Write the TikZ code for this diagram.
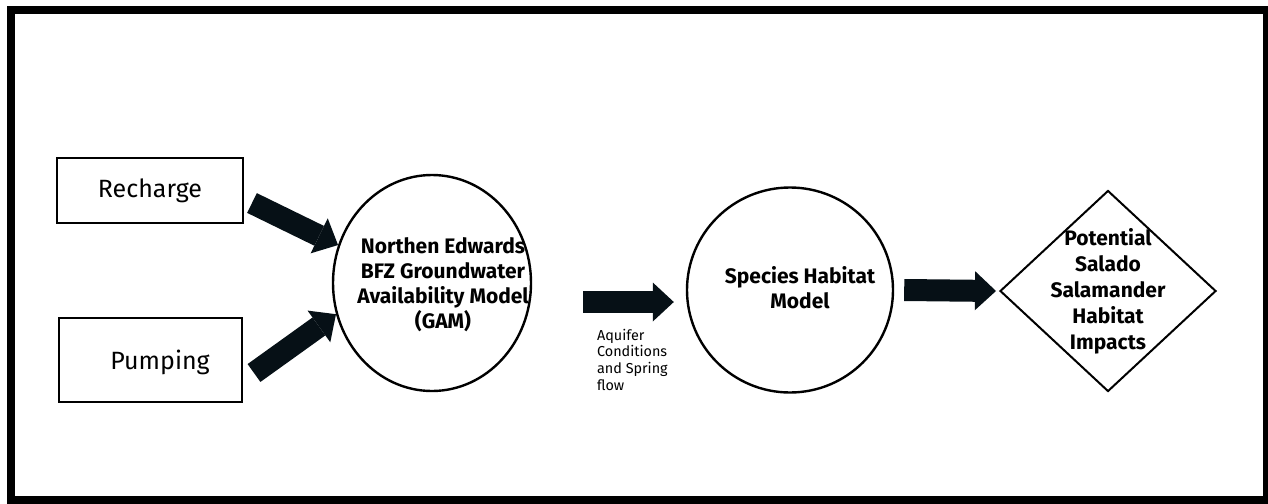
\documentclass[tikz,border=0pt]{standalone}
\usepackage{fontspec}
\setmainfont{Fira Sans}
\usepackage{tikz}
\usetikzlibrary{shapes.geometric,arrows.meta,positioning}

\definecolor{arrowfill}{RGB}{6,16,22}

\tikzset{
  inbox/.style = {rectangle, draw, line width = 1pt, inner sep = 0pt},
  model/.style = {ellipse, draw, line width = 1.2pt, inner sep = 0pt},
  boxtext/.style = {font = \fontsize{12.5}{15}\selectfont},
  modeltext/.style = {font = \bfseries\fontsize{10.5}{12.5}\selectfont,
    align = center},
  blockarrow/.style = {draw = arrowfill, line width = 11pt,
    -{Triangle[length = 10.5pt, width = 19.5pt, line width = 0pt]}},
}

\begin{document}
\begin{tikzpicture}[x = 0.5pt, y = -0.5pt]
  \useasboundingbox (0,0) rectangle (1268,503);
  % outer frame
  \draw[line width = 4pt] (10.8,10.4) rectangle (1266.7,500);

  % inputs
  \node[inbox, minimum width = 93pt, minimum height = 32.5pt]
    (recharge) at (150,190.5) {};
  \node[boxtext] (rechargetext) at (recharge) {Recharge};
  \node[inbox, minimum width = 91.5pt, minimum height = 42pt]
    (pumping) at (150.5,360) {};
  \node[boxtext] (pumpingtext) at (160,362) {Pumping};

  % models
  \node[model, minimum width = 99pt, minimum height = 108pt]
    (gam) at (432,283) {};
  \node[modeltext] (gamtext) at (443,285)
    {Northen Edwards\\BFZ Groundwater\\Availability Model\\(GAM)};
  \node[model, minimum width = 103pt, minimum height = 102.5pt]
    (species) at (790,290) {};
  \node[modeltext] (speciestext) at (800,288) {Species Habitat\\Model};

  % outcome
  \node[diamond, draw, line width = 1pt, inner sep = 0pt,
    minimum width = 108pt, minimum height = 100.5pt]
    (impacts) at (1108,291) {};
  \node[modeltext, font = \bfseries\fontsize{10.5}{13}\selectfont]
    (impactstext) at (impacts)
    {Potential\\Salado\\Salamander\\Habitat\\Impacts};

  % flows
  \draw[blockarrow] ([shift={(8,12.5)}]recharge.east) -- (gam.158);
  \draw[blockarrow] ([shift={(11,13)}]pumping.east) -- (gam.198);
  \draw[blockarrow] ([shift={(51,19)}]gam.east) -- ([shift={(-12,12)}]species.west);
  \draw[blockarrow] ([shift={(10,0)}]species.east) -- ([shift={(-3,0)}]impacts.west);
  \node[anchor = north west, align = left,
    font = \fontsize{7.2}{8.3}\selectfont]
    (flowlabel) at (590,322) {Aquifer\\Conditions\\and Spring\\flow};
\end{tikzpicture}
\end{document}
